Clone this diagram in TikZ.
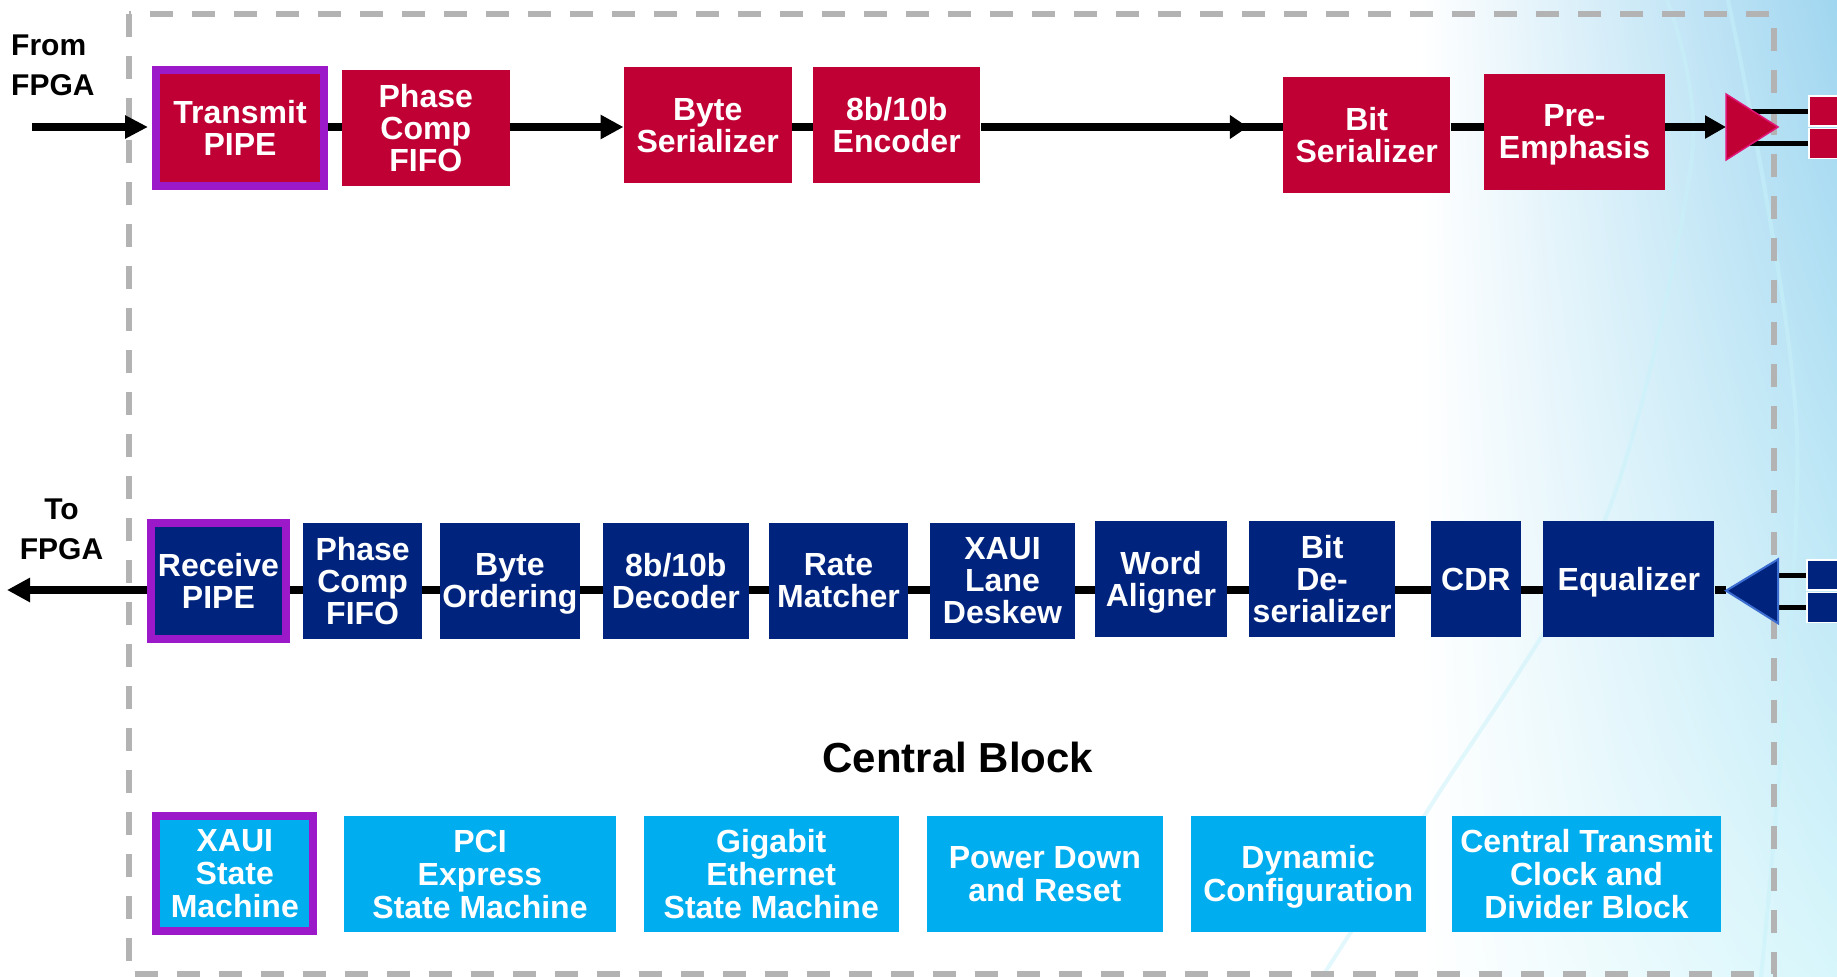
\documentclass[tikz,border=0pt]{standalone}
\usepackage{fontspec}
\setmainfont{Liberation Sans}
\usepackage{xcolor}
\usepackage{tikz}
\usetikzlibrary{shapes,arrows,positioning,calc,decorations.markings,arrows.meta,shadings}

\definecolor{txred}{RGB}{192,0,52}
\definecolor{rxnavy}{RGB}{0,36,125}
\definecolor{cblue}{RGB}{0,174,239}
\definecolor{pipepurple}{RGB}{155,25,200}
\definecolor{framegray}{RGB}{179,179,179}
\definecolor{txedge}{RGB}{225,20,120}
\definecolor{rxedge}{RGB}{60,110,210}
\definecolor{bgtop}{RGB}{160,214,240}
\definecolor{bgbot}{RGB}{215,246,251}
\definecolor{streak}{RGB}{200,242,250}

\tikzset{
  blk/.style={rectangle, inner sep=0pt, text=white, align=center, text depth=0pt,
    minimum height=116pt, font={\bfseries\fontsize{32}{32}\selectfont}},
  txblk/.style={blk, fill=txred},
  rxblk/.style={blk, fill=rxnavy},
  cblk/.style={blk, fill=cblue, font={\bfseries\fontsize{32}{33}\selectfont}},
  pipe/.style={draw=pipepurple, line width=8pt},
  link/.style={line width=8pt},
  padlink/.style={line width=5pt},
  padbox/.style={rectangle, draw=white, line width=1.5pt, minimum width=60pt, minimum height=30pt, inner sep=0pt},
  lbl/.style={inner sep=0pt, text depth=0pt, font={\bfseries\fontsize{30}{40}\selectfont}},
  midarrow/.style={decoration={markings, mark=at position 0.884 with {\arrow{Triangle[length=18pt,width=23pt]}}}, postaction={decorate}}
}

\begin{document}
\begin{tikzpicture}[x=1pt, y=-1pt]
  \useasboundingbox (0,0) rectangle (1837,977);

  % Background wash on the right
  \shade[upper left=white, lower left=white, upper right=bgtop, lower right=bgbot] (1420,0) rectangle (1837,977);
  \draw[streak, line width=4pt, opacity=0.5] plot[smooth] coordinates {(1667,0) (1692,156) (1606,517) (1428,810) (1322,977)};
  \draw[streak, line width=4pt, opacity=0.5] plot[smooth] coordinates {(1728,0) (1797,436) (1761,977)};

  % Transceiver boundary
  \draw[framegray, line width=6pt, dash pattern=on 23pt off 19pt] (129,14) rectangle (1774,974);

  % Transmit path
  \coordinate (txrow) at (0,127);
  \coordinate (fromfpga) at (32,127);
  \node[txblk, pipe, minimum width=168pt, minimum height=115.5pt] (txpipe) at (240,127.75) {Transmit\\PIPE};
  \node[txblk, minimum width=167.5pt] (txfifo) at (425.75,127.85) {Phase\\Comp\\FIFO};
  \node[txblk, minimum width=168pt] (byteser) at (707.7,125) {Byte\\Serializer};
  \node[txblk, minimum width=167.4pt] (enc) at (896.7,125) {8b/10b\\Encoder};
  \node[txblk, minimum width=167.4pt] (bitser) at (1366.7,134.7) {Bit\\Serializer};
  \node[txblk, minimum width=181pt] (preemph) at (1574.5,131.85) {Pre-\\Emphasis};
  \coordinate (txtri) at (1726,127);

  \draw[link, -{Triangle[length=23pt,width=22pt]}, shorten >=4pt] (fromfpga) -- (txpipe.west|-txrow);
  \draw[link] (txpipe.east|-txrow) -- (txfifo.west|-txrow);
  \draw[link, -{Triangle[length=23pt,width=23pt]}] (txfifo.east|-txrow) -- (byteser.west|-txrow);
  \draw[link] (byteser.east|-txrow) -- (enc.west|-txrow);
  \draw[link, midarrow] (enc.east|-txrow) -- (bitser.west|-txrow);
  \draw[link] (bitser.east|-txrow) -- (preemph.west|-txrow);
  \draw[link, -{Triangle[length=21pt,width=22pt]}] (preemph.east|-txrow) -- (txtri);

  % TX driver and pads
  \node[padbox, fill=txred] (txpadp) at (1839,111) {};
  \node[padbox, fill=txred] (txpadn) at (1839,143.7) {};
  \draw[padlink] (txpadp.west) -- (txpadp.west-|txtri);
  \draw[padlink] (txpadn.west) -- (txpadn.west-|txtri);
  \filldraw[draw=txedge, fill=txred, line width=1.5pt] (1726,94) -- (1778,127) -- (1726,160) -- cycle;

  % Receive path
  \coordinate (rxrow) at (0,590);
  \coordinate (tofpga) at (7,590);
  \node[rxblk, pipe, minimum width=135.8pt, minimum height=115.4pt] (rxpipe) at (218.4,581) {Receive\\PIPE};
  \node[rxblk, minimum width=118.7pt] (rxfifo) at (362.65,580.5) {Phase\\Comp\\FIFO};
  \node[rxblk, minimum width=139.8pt] (byteord) at (509.9,580.5) {Byte\\Ordering};
  \node[rxblk, minimum width=145.7pt] (dec) at (675.85,580.5) {8b/10b\\Decoder};
  \node[rxblk, minimum width=139pt] (ratem) at (838.5,580.5) {Rate\\Matcher};
  \node[rxblk, minimum width=145.4pt] (deskew) at (1002.5,580.5) {XAUI\\Lane\\Deskew};
  \node[rxblk, minimum width=132pt] (wordal) at (1161,578.85) {Word\\Aligner};
  \node[rxblk, minimum width=145.4pt] (bitdes) at (1322.1,578.85) {Bit\\De-\\serializer};
  \node[rxblk, minimum width=90pt] (cdr) at (1475.8,578.85) {CDR};
  \node[rxblk, minimum width=171pt] (equ) at (1628.8,578.85) {Equalizer};
  \coordinate (rxtri) at (1726,590);
  \coordinate (rxtriback) at (1776,590);

  \foreach \a/\b in {rxfifo/rxpipe, byteord/rxfifo, dec/byteord, ratem/dec, deskew/ratem,
                     wordal/deskew, bitdes/wordal, cdr/bitdes, equ/cdr}
    \draw[link] (\a.west|-rxrow) -- (\b.east|-rxrow);
  \draw[link] (rxtri) -- (equ.east|-rxrow);
  \draw[link, -{Triangle[length=23pt,width=23pt]}] (rxpipe.west|-rxrow) -- (tofpga);

  % RX buffer and pads
  \node[padbox, fill=rxnavy] (rxpadp) at (1837,575) {};
  \node[padbox, fill=rxnavy] (rxpadn) at (1837,607.7) {};
  \draw[padlink] (rxpadp.west) -- (rxpadp.west-|rxtriback);
  \draw[padlink] (rxpadn.west) -- (rxpadn.west-|rxtriback);
  \filldraw[draw=rxedge, fill=rxnavy, line width=2pt] (1778,559.3) -- (1726,590.7) -- (1778,623.3) -- cycle;

  % Central block
  \node[font={\bfseries\fontsize{42}{42}\selectfont}, inner sep=0pt, text depth=0pt] (central) at (958,757.5) {Central Block};
  \node[cblk, pipe, minimum width=157pt, minimum height=114.7pt] (xauism) at (234.8,873.65) {XAUI\\State\\Machine};
  \node[cblk, minimum width=272pt] (pcism) at (480,873.85) {PCI\\Express\\State Machine};
  \node[cblk, minimum width=255.5pt] (gbesm) at (771.25,873.85) {Gigabit\\Ethernet\\State Machine};
  \node[cblk, minimum width=236.4pt] (pwrdn) at (1044.8,873.85) {Power Down\\and Reset};
  \node[cblk, minimum width=234.9pt] (dyncfg) at (1308.15,873.85) {Dynamic\\Configuration};
  \node[cblk, minimum width=269.7pt] (ctclk) at (1586.55,873.85) {Central Transmit\\Clock and\\Divider Block};

  % FPGA side labels
  \node[lbl, anchor=west, align=left] (fromlbl) at (11,65) {From\\FPGA};
  \node[lbl, align=center] (tolbl) at (61.5,529) {To\\FPGA};
\end{tikzpicture}
\end{document}
